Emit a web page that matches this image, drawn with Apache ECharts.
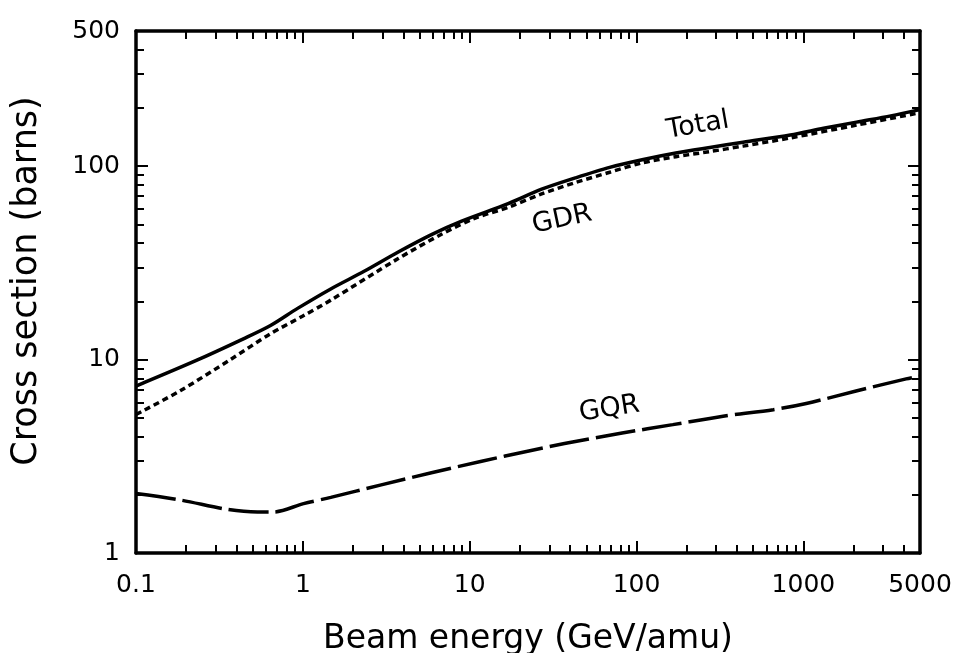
<!DOCTYPE html>
<html>
<head>
<meta charset="utf-8">
<script src="https://cdn.jsdelivr.net/npm/echarts@6/dist/echarts.min.js"></script>
<style>
html,body{margin:0;padding:0;background:#fff;}
#chart{width:958px;height:653px;}
</style>
</head>
<body>
<div id="chart"></div>
<script>
// ---- data ----
const totalE = [0.1, 0.23, 0.44, 0.64, 0.93, 1.47, 2.33, 3.73, 5.9, 8.95, 17, 27, 43, 69, 108, 172, 275, 435, 835, 1320, 2080, 3340, 5000];
const totalS = [7.3, 9.9, 12.8, 15.0, 18.4, 23.2, 28.6, 36, 44.3, 52, 64, 76, 87, 98.6, 108, 117, 125, 133, 145, 157, 169, 182, 196];

const gdrE = [0.1, 0.184, 0.368, 0.64, 1.0, 1.47, 3.73, 6.78, 10.7, 17.2, 27, 43, 69, 108, 172, 275, 435, 835, 2080, 5000];
const gdrS = [5.2, 6.9, 10.0, 13.6, 16.8, 20.3, 33.3, 44.5, 53.7, 61.5, 71.9, 82.3, 93, 104, 112, 119, 127, 140, 163, 189];

const gqrE = [0.1, 0.184, 0.353, 0.535, 0.668, 1.01, 1.47, 2.95, 5.9, 11.8, 22.6, 37, 82, 165, 330, 660, 1040, 2070, 4130, 5000];
const gqrS = [2.03, 1.88, 1.68, 1.63, 1.63, 1.80, 1.94, 2.25, 2.60, 2.98, 3.37, 3.68, 4.17, 4.61, 5.10, 5.51, 5.93, 6.88, 7.95, 8.2];

const xLabels = [0.1, 1, 10, 100, 1000, 5000];
const xMajor = [0.1, 1, 10, 100, 1000];
const xMinor = [0.2,0.3,0.4,0.5,0.6,0.7,0.8,0.9, 2,3,4,5,6,7,8,9, 20,30,40,50,60,70,80,90,
                200,300,400,500,600,700,800,900, 2000,3000,4000];
const yLabels = [1, 10, 100, 500];
const yMajor = [1, 10, 100];
const yMinor = [2,3,4,5,6,7,8,9, 20,30,40,50,60,70,80,90, 200,300,400];

// annotation anchors (data coordinates)
const curveLabels = [
  {name: 'Total', coord: [233, 162], rotate: 10, size: 27},
  {name: 'GDR',   coord: [35.8, 53.0], rotate: 12, size: 27},
  {name: 'GQR',   coord: [68.8, 5.55], rotate: 9, size: 27}
];

const pairs = (xs, ys) => xs.map((x, i) => [x, ys[i]]);
const FONT = 'DejaVu Sans';
const black = '#000';

function xAx(pos, ticks, len, opts) {
  return Object.assign({
    type: 'log', logBase: 10, min: 0.1, max: 5000, position: pos,
    axisLine: {show: false, onZero: false},
    axisTick: {show: true, inside: true, length: len, customValues: ticks,
               lineStyle: {color: black, width: 2}},
    axisLabel: {show: false},
    splitLine: {show: false}, minorTick: {show: false}, minorSplitLine: {show: false}
  }, opts || {});
}
function yAx(pos, ticks, len, opts) {
  return Object.assign({
    type: 'log', logBase: 10, min: 1, max: 500, position: pos,
    axisLine: {show: false, onZero: false},
    axisTick: {show: true, inside: true, length: len, customValues: ticks,
               lineStyle: {color: black, width: 2}},
    axisLabel: {show: false},
    splitLine: {show: false}, minorTick: {show: false}, minorSplitLine: {show: false}
  }, opts || {});
}

function labelMark(l) {
  return {
    symbol: 'circle', symbolSize: 0, silent: true,
    data: [{name: l.name, coord: l.coord,
      label: {show: true, formatter: l.name, rotate: l.rotate, position: 'inside',
              color: black, fontSize: l.size, fontFamily: FONT}}]
  };
}

const chart = echarts.init(document.getElementById('chart'), null, {renderer: 'canvas'});
const option = {
  animation: false,
  backgroundColor: '#fff',
  grid: {left: 136, right: 38, top: 31, bottom: 100, containLabel: false, outerBoundsMode: 'none'},
  xAxis: [
    xAx('bottom', xMajor, 12, {
      axisLine: {show: true, onZero: false, lineStyle: {color: black, width: 3.5}},
      axisLabel: {show: true, customValues: xLabels, formatter: v => String(v),
                  margin: 20, fontSize: 25, color: black, fontFamily: FONT},
      name: 'Beam energy (GeV/amu)', nameLocation: 'middle', nameGap: 70,
      nameTextStyle: {fontSize: 33, color: black, fontFamily: FONT}
    }),
    xAx('bottom', xMinor, 8),
    xAx('top', xMajor, 12, {axisLine: {show: true, onZero: false, lineStyle: {color: black, width: 3.5}}}),
    xAx('top', xMinor, 8)
  ],
  yAxis: [
    yAx('left', yMajor, 12, {
      axisLine: {show: true, onZero: false, lineStyle: {color: black, width: 3.5}},
      axisLabel: {show: true, customValues: yLabels, formatter: v => String(v),
                  margin: 16, fontSize: 25, color: black, fontFamily: FONT},
      name: 'Cross section (barns)', nameLocation: 'middle', nameGap: 92,
      nameTextStyle: {fontSize: 35, color: black, fontFamily: FONT, padding: [0, 0, 0, 22]}
    }),
    yAx('left', yMinor, 8),
    yAx('right', yMajor, 12, {axisLine: {show: true, onZero: false, lineStyle: {color: black, width: 3.5}}}),
    yAx('right', yMinor, 8)
  ],
  series: [
    {
      name: 'Total', type: 'line', xAxisIndex: 0, yAxisIndex: 0,
      data: pairs(totalE, totalS), showSymbol: false, smooth: 0.3,
      lineStyle: {color: black, width: 3.5, type: 'solid'},
      markPoint: labelMark(curveLabels[0])
    },
    {
      name: 'GDR', type: 'line', xAxisIndex: 0, yAxisIndex: 0,
      data: pairs(gdrE, gdrS), showSymbol: false, smooth: 0.3,
      lineStyle: {color: black, width: 3.5, type: [6, 4]},
      markPoint: labelMark(curveLabels[1])
    },
    {
      name: 'GQR', type: 'line', xAxisIndex: 0, yAxisIndex: 0,
      data: pairs(gqrE, gqrS), showSymbol: false, smooth: 0.3,
      lineStyle: {color: black, width: 3.5, type: [40, 7]},
      markPoint: labelMark(curveLabels[2])
    }
  ]
};
chart.setOption(option);
</script>
</body>
</html>
